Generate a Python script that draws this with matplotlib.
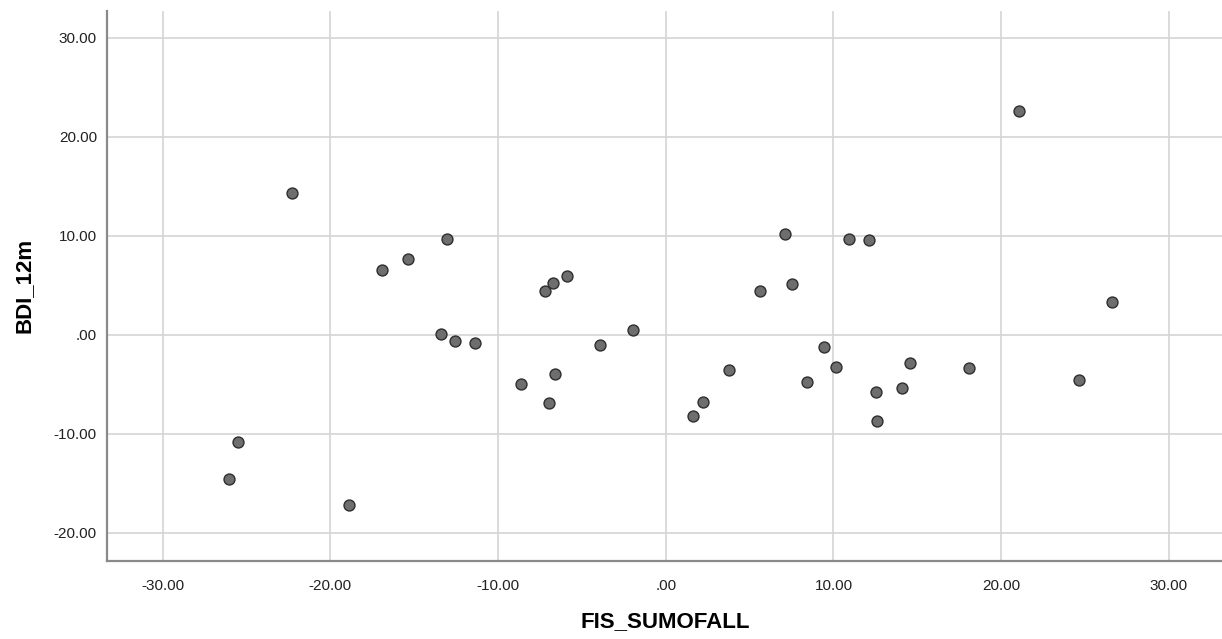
import matplotlib
matplotlib.use('Agg')
import matplotlib.pyplot as plt
from matplotlib.ticker import FuncFormatter

plt.rcParams['font.family'] = ['Liberation Sans', 'DejaVu Sans']

# Scatter data
fis_sumofall = [-22.28, -16.94, -25.50, -26.04, -18.88,
                21.07, 10.95, 12.10, 26.61,
                -15.35, -13.04, -13.42, -12.55, -11.39, -7.18, -6.72, -5.87,
                -8.61, -6.60, -6.98, -3.92, -1.93, 7.10, 5.60, 7.53, 3.80,
                2.22, 1.63,
                9.42, 10.17, 8.43, 14.55, 18.07, 12.56, 14.07, 12.62, 24.63]
bdi_12m = [14.31, 6.60, -10.84, -14.55, -17.20,
           22.56, 9.70, 9.56, 3.30,
           7.71, 9.66, 0.07, -0.60, -0.84, 4.41, 5.22, 5.96,
           -4.98, -3.90, -6.87, -1.04, 0.50, 10.23, 4.44, 5.15, -3.50,
           -6.77, -8.15,
           -1.24, -3.23, -4.71, -2.86, -3.37, -5.79, -5.35, -8.72, -4.51]

x_ticks = [-30, -20, -10, 0, 10, 20, 30]
y_ticks = [-20, -10, 0, 10, 20, 30]


def spss_fmt(v, pos):
    s = '%.2f' % v
    if s == '0.00' or s == '-0.00':
        return '.00'
    return s


fig = plt.figure(figsize=(12.22, 6.39), dpi=100)
ax = fig.add_axes([0.0873, 0.1225, 0.915, 0.8603])

ax.scatter(fis_sumofall, bdi_12m, s=62, facecolor='#6e6e6e', edgecolor='#2e2e2e',
           linewidth=1.0, zorder=3)

ax.set_xlim(-33.33, 33.33)
ax.set_ylim(-22.8, 32.7)
ax.set_xticks(x_ticks)
ax.set_yticks(y_ticks)
ax.xaxis.set_major_formatter(FuncFormatter(spss_fmt))
ax.yaxis.set_major_formatter(FuncFormatter(spss_fmt))
ax.grid(True, color='#d4d4d4', linewidth=1.2, zorder=0)
ax.set_axisbelow(True)

for side in ['top', 'right']:
    ax.spines[side].set_visible(False)
for side in ['left', 'bottom']:
    ax.spines[side].set_color('#8a8a8a')
    ax.spines[side].set_linewidth(1.6)

ax.tick_params(axis='both', length=0, labelsize=11, colors='#222222')
ax.tick_params(axis='x', pad=13)
ax.tick_params(axis='y', pad=7)

ax.set_xlabel('FIS_SUMOFALL', fontsize=16, fontweight='bold', labelpad=13)
ax.set_ylabel('BDI_12m', fontsize=16, fontweight='bold', labelpad=14)

fig.savefig('out.png', dpi=100)
